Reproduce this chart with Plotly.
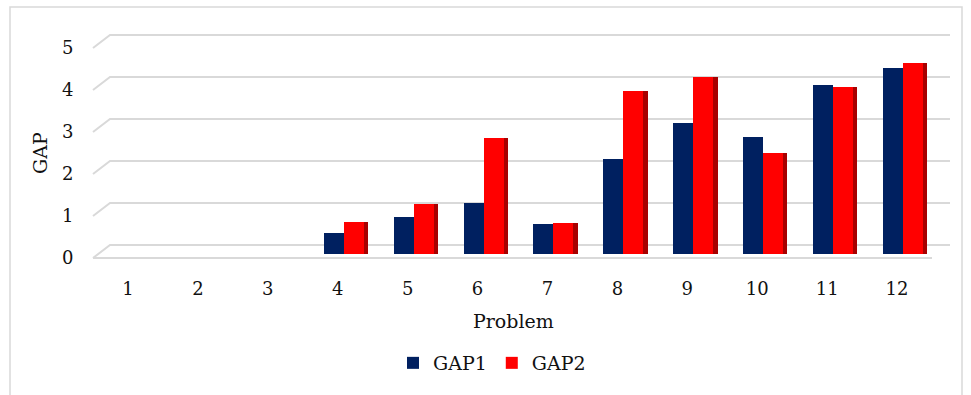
import plotly.graph_objects as go

# Problem index and GAP values for the two measures
problems = [str(i) for i in range(1, 13)]
gap1 = [0.0, 0.0, 0.0, 0.50, 0.88, 1.21, 0.71, 2.26, 3.12, 2.79, 4.02, 4.43]
gap2 = [0.0, 0.0, 0.0, 0.76, 1.19, 2.76, 0.74, 3.88, 4.21, 2.40, 3.98, 4.55]
y_ticks = [0, 1, 2, 3, 4, 5]

W, H = 971, 395
NAVY = "#002060"
RED = "#ff0000"
RED_SIDE = "#a80000"
GRID = "#d9d9d9"
FONT = dict(family="DejaVu Serif", size=19, color="#111111")
TICK_FONT = dict(family="DejaVu Serif", size=18, color="#111111")


def px(x):
    return x / W


def py(y):
    return 1 - y / H


# pixel geometry of the plot box
X_FRONT_L, X_FRONT_R = 93, 932
X_BACK_L, X_BACK_R = 110, 950
Y_BOT, Y_TOP = 270, 20
UNIT = 42.0          # pixels per GAP unit
BASE_BARS = 254      # pixel row of value 0 for the bars
BASE_LABELS = 258    # pixel row of value 0 on the front face (labels)

fig = go.Figure()

fig.add_trace(go.Bar(
    x=problems, y=gap1, name="GAP1", marker=dict(color=NAVY, line=dict(width=0)),
    offset=-0.20, width=0.286,
))
fig.add_trace(go.Bar(
    x=problems, y=gap2, name="GAP2", marker=dict(color=RED, line=dict(width=0)),
    offset=0.086, width=0.286,
))
# darker right-hand side face of the GAP2 columns
fig.add_trace(go.Bar(
    x=problems, y=gap2, name="GAP2 side", showlegend=False, hoverinfo="skip",
    marker=dict(color=RED_SIDE, line=dict(width=0)),
    offset=0.372, width=0.06,
))

# perspective gridlines: short diagonal from the front face to the back wall
shapes = []
front_off = (BASE_BARS - BASE_LABELS) / UNIT
back_off = (BASE_BARS - 245) / UNIT
for v in y_ticks:
    yf = v + front_off
    yb = v + back_off
    path = (f"M {px(X_FRONT_L)},{yf} L {px(X_BACK_L)},{yb} L {px(X_BACK_R)},{yb}")
    if v == 0:
        path += f" M {px(X_FRONT_L)},{yf} L {px(X_FRONT_R)},{yf}"
    shapes.append(dict(type="path", path=path, xref="paper", yref="y",
                       line=dict(color=GRID, width=2), layer="below"))

# light frame around the whole chart
shapes.append(dict(type="rect", xref="paper", yref="paper",
                   x0=px(10), x1=px(962), y0=-0.1, y1=py(7),
                   line=dict(color=GRID, width=1.5), layer="below"))

fig.update_layout(
    width=W, height=H,
    margin=dict(l=0, r=0, t=0, b=0),
    paper_bgcolor="white", plot_bgcolor="rgba(0,0,0,0)",
    font=FONT,
    barmode="overlay",
    bargap=0,
    showlegend=True,
    legend=dict(orientation="h", x=px(492), xanchor="center",
                y=py(363), yanchor="middle", font=FONT,
                bgcolor="rgba(0,0,0,0)", itemwidth=30, tracegroupgap=0),
    xaxis=dict(
        domain=[px(X_FRONT_L), px(X_FRONT_R)],
        type="category", range=[-0.5, 11.5],
        showgrid=False, zeroline=False, showline=False,
        ticks="outside", ticklen=2, tickcolor="rgba(0,0,0,0)",
        tickfont=TICK_FONT, anchor="y",
    ),
    yaxis=dict(
        domain=[py(Y_BOT), py(Y_TOP)],
        range=[(BASE_BARS - Y_BOT) / UNIT, (BASE_BARS - Y_TOP) / UNIT],
        tickvals=y_ticks, ticktext=[str(v) for v in y_ticks],
        ticklabelshift=(BASE_LABELS - BASE_BARS),
        showgrid=False, zeroline=False, showline=False,
        ticks="outside", ticklen=15, tickcolor="rgba(0,0,0,0)",
        tickfont=TICK_FONT, anchor="x",
    ),
    shapes=shapes,
    annotations=[
        dict(text="GAP", xref="paper", yref="paper", x=px(40), y=py(153),
             showarrow=False, textangle=-90, font=FONT,
             xanchor="center", yanchor="middle"),
        dict(text="Problem", xref="paper", yref="paper", x=px(513), y=py(321),
             showarrow=False, font=FONT, xanchor="center", yanchor="middle"),
    ],
)

fig.write_html("out.html")
